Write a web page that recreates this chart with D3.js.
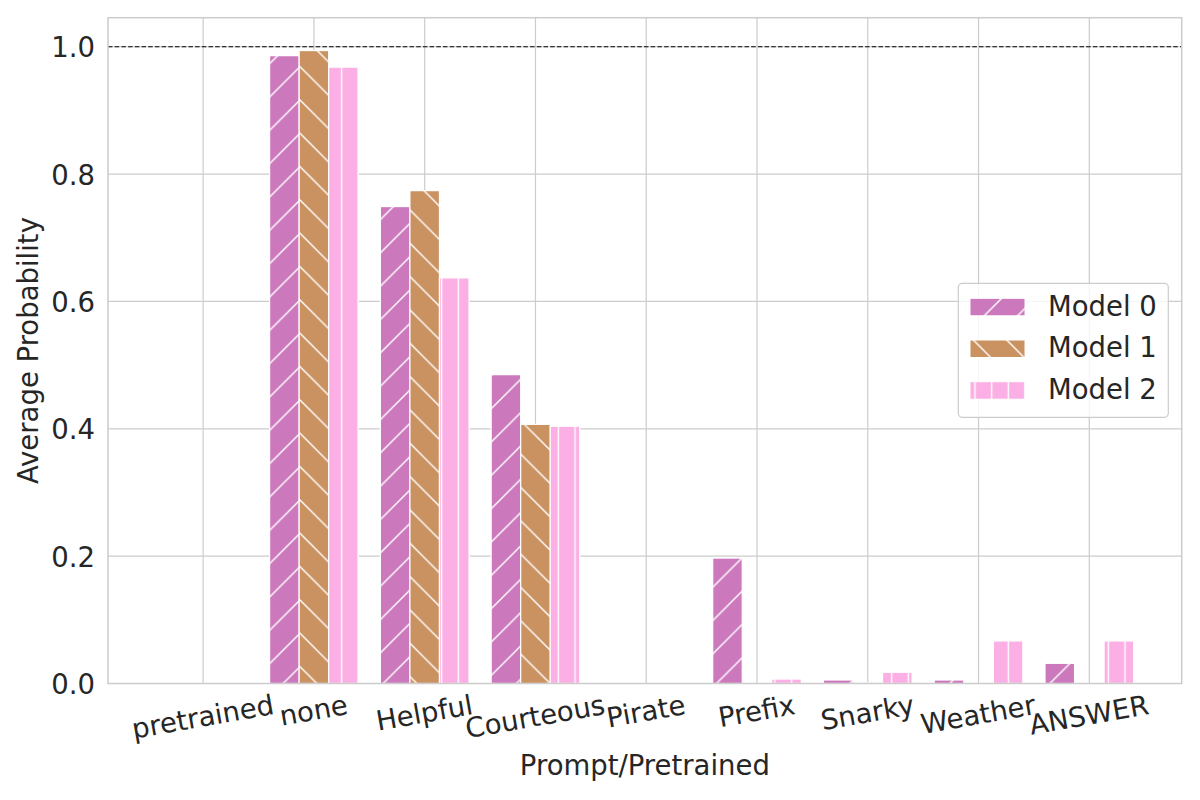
<!DOCTYPE html>
<html>
<head>
<meta charset="utf-8">
<script src="https://cdn.jsdelivr.net/npm/d3@7"></script>
<style>
  body { margin: 0; background: #fff; }
  text { font-family: "DejaVu Sans", sans-serif; fill: #262626; }
</style>
</head>
<body>
<script>
// data
var categories = ["pretrained", "none", "Helpful", "Courteous", "Pirate", "Prefix", "Snarky", "Weather", "ANSWER"];
var model0 = [0, 0.986, 0.749, 0.485, 0, 0.197, 0.0055, 0.0055, 0.0317];
var model1 = [0, 0.994, 0.774, 0.407, 0, 0, 0.001, 0, 0];
var model2 = [0, 0.968, 0.637, 0.404, 0, 0.007, 0.0176, 0.0668, 0.0668];
var seriesNames = ["Model 0", "Model 1", "Model 2"];
var yTicks = [0, 0.2, 0.4, 0.6, 0.8, 1.0];

var w = 1200;
var h = 800;
var fs = 27.5;
var colors = ["#cc78bc", "#ca9161", "#fbafe4"];
var barW = 0.8 / 3;

var svg = d3.select("body")
  .append("svg")
  .attr("width", w)
  .attr("height", h);

//plot box
var pLeft = 108, pRight = 1181.7, pTop = 17.7, pBottom = 683.5;

var x = d3.scaleLinear().domain([-0.859, 8.834]).range([pLeft, pRight]);
var y = d3.scaleLinear().domain([0, 1.0456]).range([pBottom, pTop]);

// hatch patterns, anchored at page origin like matplotlib
var defs = svg.append("defs");
var s = 33.333;
var p0 = defs.append("pattern").attr("id", "h0").attr("patternUnits", "userSpaceOnUse")
  .attr("width", s).attr("height", s);
p0.append("rect").attr("width", s).attr("height", s).attr("fill", colors[0]);
p0.append("path")
  .attr("d", "M0," + s + "L" + s + ",0M-3,3L3,-3M" + (s - 3) + "," + (s + 3) + "L" + (s + 3) + "," + (s - 3))
  .attr("stroke", "#fff").attr("stroke-width", 1.4);

var p1 = defs.append("pattern").attr("id", "h1").attr("patternUnits", "userSpaceOnUse")
  .attr("width", s).attr("height", s);
p1.append("rect").attr("width", s).attr("height", s).attr("fill", colors[1]);
p1.append("path")
  .attr("d", "M0,0L" + s + "," + s + "M-3," + (s - 3) + "L3," + (s + 3) + "M" + (s - 3) + ",-3L" + (s + 3) + ",3")
  .attr("stroke", "#fff").attr("stroke-width", 1.4);

var s2 = 16.667;
var p2 = defs.append("pattern").attr("id", "h2").attr("patternUnits", "userSpaceOnUse")
  .attr("width", s2).attr("height", s2);
p2.append("rect").attr("width", s2).attr("height", s2).attr("fill", colors[2]);
p2.append("line").attr("x1", 8.33).attr("x2", 8.33).attr("y1", -1).attr("y2", s2 + 1)
  .attr("stroke", "#fff").attr("stroke-width", 1.4);

// grid
svg.append("g").selectAll("line")
  .data(d3.range(categories.length))
  .enter().append("line")
  .attr("x1", function(d) { return x(d); })
  .attr("x2", function(d) { return x(d); })
  .attr("y1", pTop).attr("y2", pBottom)
  .attr("stroke", "#cccccc").attr("stroke-width", 1.2);

svg.append("g").selectAll("line")
  .data(yTicks)
  .enter().append("line")
  .attr("x1", pLeft).attr("x2", pRight)
  .attr("y1", function(d) { return y(d); })
  .attr("y2", function(d) { return y(d); })
  .attr("stroke", "#cccccc").attr("stroke-width", 1.2);

// bars
var series = [model0, model1, model2];
series.forEach(function(vals, k) {
  svg.append("g").selectAll("rect")
    .data(vals)
    .enter().append("rect")
    .attr("x", function(d, i) { return x(i + (k - 1) * barW - barW / 2); })
    .attr("width", function() { return x(barW) - x(0); })
    .attr("y", function(d) { return y(d); })
    .attr("height", function(d) { return y(0) - y(d); })
    .attr("fill", "url(#h" + k + ")")
    .attr("stroke", "#fff")
    .attr("stroke-width", 1.2);
});

// reference line at 1.0
svg.append("line")
  .attr("x1", pLeft).attr("x2", pRight)
  .attr("y1", y(1)).attr("y2", y(1))
  .attr("stroke", "#000").attr("stroke-width", 1.2)
  .attr("stroke-dasharray", "4.5,2.2");

// frame
svg.append("rect")
  .attr("x", pLeft).attr("y", pTop)
  .attr("width", pRight - pLeft).attr("height", pBottom - pTop)
  .attr("fill", "none").attr("stroke", "#cccccc").attr("stroke-width", 1.5);

// y tick labels
svg.append("g").selectAll("text")
  .data(yTicks)
  .enter().append("text")
  .attr("x", 95)
  .attr("y", function(d) { return y(d) + 10.5; })
  .attr("text-anchor", "end")
  .style("font-size", fs + "px")
  .text(function(d) { return d3.format(".1f")(d); });

// x tick labels, rotated 10deg, bbox centred on tick like matplotlib
var rad = 10 * Math.PI / 180;
var xl = svg.append("g").selectAll("g")
  .data(categories)
  .enter().append("g");
xl.append("text")
  .attr("text-anchor", "middle")
  .attr("y", 7.4)
  .style("font-size", fs + "px")
  .text(function(d) { return d; });
xl.attr("transform", function(d, i) {
  var tw = this.querySelector("text").getComputedTextLength();
  var bh = tw * Math.sin(rad) + fs * Math.cos(rad);
  return "translate(" + x(i) + "," + (693 + bh / 2) + ") rotate(-10)";
});

// axis titles
svg.append("text")
  .attr("x", (pLeft + pRight) / 2).attr("y", 775)
  .attr("text-anchor", "middle")
  .style("font-size", fs + "px")
  .text("Prompt/Pretrained");

svg.append("text")
  .attr("transform", "translate(38," + ((pTop + pBottom) / 2) + ") rotate(-90)")
  .attr("text-anchor", "middle")
  .style("font-size", fs + "px")
  .text("Average Probability");

// legend
var lg = svg.append("g");
lg.append("rect")
  .attr("x", 958.3).attr("y", 283.3)
  .attr("width", 210).attr("height", 134)
  .attr("rx", 4)
  .attr("fill", "#fff").attr("fill-opacity", 0.8)
  .attr("stroke", "#cccccc").attr("stroke-width", 1.2);

var rows = lg.selectAll("g")
  .data(seriesNames)
  .enter().append("g");
rows.append("rect")
  .attr("x", 970).attr("width", 55)
  .attr("y", function(d, i) { return 298.3 + i * 41.7; })
  .attr("height", 17.5)
  .attr("fill", function(d, i) { return "url(#h" + i + ")"; })
  .attr("stroke", "#fff").attr("stroke-width", 1);
rows.append("text")
  .attr("x", 1048)
  .attr("y", function(d, i) { return 315.5 + i * 41.7; })
  .style("font-size", fs + "px")
  .text(function(d) { return d; });
</script>
</body>
</html>
